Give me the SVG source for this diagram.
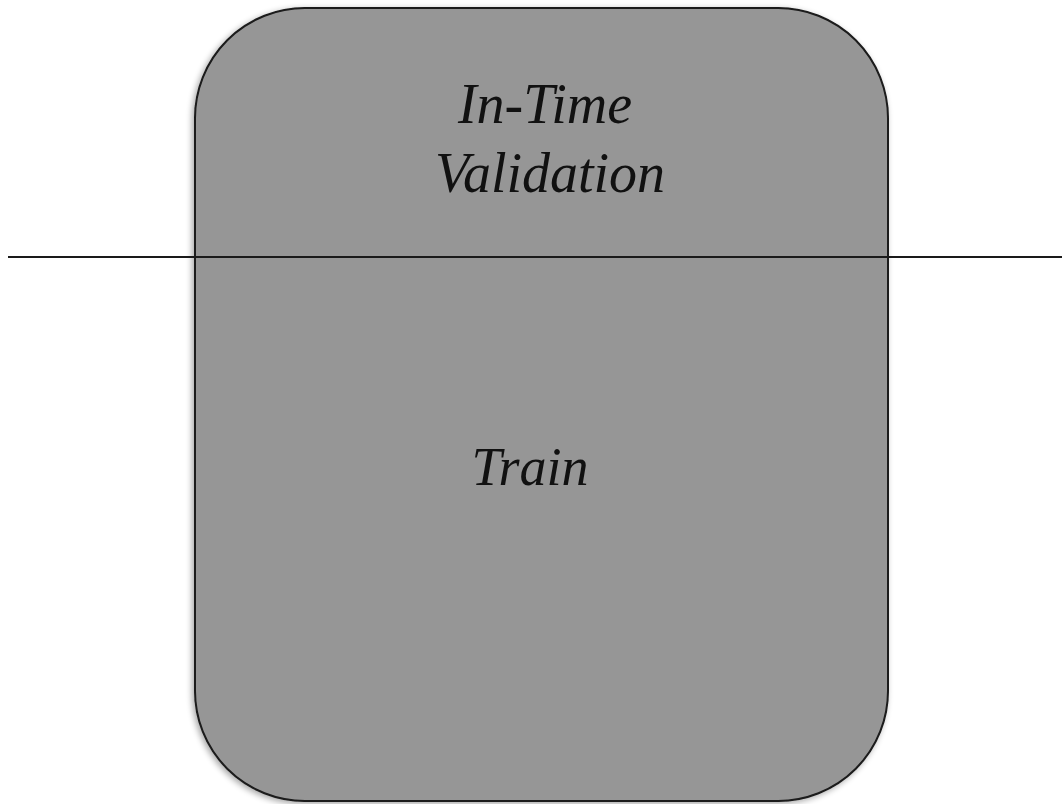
<svg xmlns="http://www.w3.org/2000/svg" width="1062" height="804" viewBox="0 0 1062 804">
<defs>
<filter id="sh" x="-5%" y="-5%" width="110%" height="110%">
<feGaussianBlur in="SourceAlpha" stdDeviation="3"/>
<feOffset dx="-2" dy="2"/>
<feComponentTransfer><feFuncA type="linear" slope="0.35"/></feComponentTransfer>
<feMerge><feMergeNode/><feMergeNode in="SourceGraphic"/></feMerge>
</filter>
</defs>
<style>
.box{fill:#969696;stroke:#1a1a1a;stroke-width:2}
.lbl{font-family:"Liberation Serif",serif;font-style:italic;font-size:56px;fill:#111;text-anchor:middle}
.ln{stroke:#1a1a1a;stroke-width:2;fill:none}
</style>
<g id="node-box">
<rect class="box" x="195" y="8" width="693" height="793" rx="110" ry="110" filter="url(#sh)"/>
<text class="lbl" x="545" y="123">In-Time</text>
<text class="lbl" x="550" y="192">Validation</text>
<text class="lbl" x="530" y="485" style="font-size:54px">Train</text>
</g>
<g id="connectors">
<line class="ln" x1="8" y1="257" x2="1062" y2="257"/>
</g>
</svg>
